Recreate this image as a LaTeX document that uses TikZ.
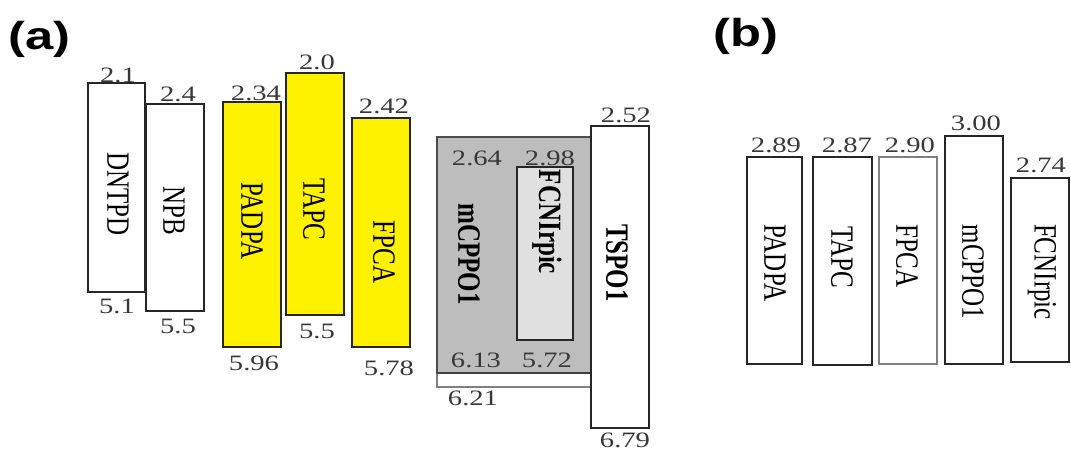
\documentclass[tikz,border=0pt]{standalone}
\usepackage{fontspec}
\usepackage{graphicx}
\setmainfont{Liberation Serif}
\newfontfamily\panelfont{Liberation Sans}

\tikzset{
  lvlbox/.style={draw=black!85, line width=1.1pt, fill=white},
  hostbox/.style={lvlbox, fill=yellow},
  val/.style={font=\fontsize{22}{24}\selectfont, text=black!78, inner sep=0pt, anchor=base},
  mol/.style={rotate=-90, inner sep=0pt, font=\fontsize{25}{28}\selectfont},
  panel/.style={font=\panelfont\bfseries\fontsize{39}{42}\selectfont, inner sep=0pt, anchor=base west},
}
\newcommand{\vtxt}[1]{\scalebox{1}[1.3]{#1}}
\newcommand{\htxt}[1]{\scalebox{1.3}[1]{#1}}

\begin{document}
\begin{tikzpicture}[x=1pt, y=-1pt]
    \useasboundingbox (0,0) rectangle (1071,452);

    % Panel labels
    \node[panel] (labA) at (8,50) {\htxt{(a)}};
    \node[panel] (labB) at (713,47) {\htxt{(b)}};

    % (a) hole transport layers
    \draw[lvlbox] (88,83) rectangle (145,292);
    \draw[lvlbox] (146,104) rectangle (204,311);
    \node[mol] (dntpd) at (118,194) {\vtxt{DNTPD}};
    \node[mol] (npb) at (174,211) {\vtxt{NPB}};
    \node[val] (dntpdL) at (118,82) {\htxt{2.1}};
    \node[val] (dntpdH) at (117,313) {\htxt{5.1}};
    \node[val] (npbL) at (178,102) {\htxt{2.4}};
    \node[val] (npbH) at (178,333) {\htxt{5.5}};

    % (a) yellow hosts
    \draw[hostbox] (223,102) rectangle (281,347);
    \draw[hostbox] (286,73) rectangle (344,315);
    \draw[hostbox] (352,118) rectangle (410,347);
    \node[mol] (padpa) at (252,221) {\vtxt{PADPA}};
    \node[mol] (tapc) at (314,209) {\vtxt{TAPC}};
    \node[mol] (fpca) at (384,252) {\vtxt{FPCA}};
    \node[val] (padpaL) at (256,100) {\htxt{2.34}};
    \node[val] (padpaH) at (254,370) {\htxt{5.96}};
    \node[val] (tapcL) at (317,70) {\htxt{2.0}};
    \node[val] (tapcH) at (317,338) {\htxt{5.5}};
    \node[val] (fpcaL) at (384,113) {\htxt{2.42}};
    \node[val] (fpcaH) at (389,375) {\htxt{5.78}};

    % (a) mCPPO1 host with FCNIrpic dopant
    \draw[draw=gray, line width=1.1pt, fill=white] (437,373) rectangle (592,387);
    \draw[draw=black!70, line width=1.1pt, fill=black!26] (437,137) rectangle (592,373);
    \draw[black!75, line width=2.2pt] (437,373) -- (592,373);
    \draw[lvlbox, fill=black!12] (517,167) rectangle (573,340);
    \node[mol, font=\bfseries\fontsize{25}{28}\selectfont] (mcppo) at (469,254) {\vtxt{mCPPO1}};
    \node[mol, font=\bfseries\fontsize{25}{28}\selectfont] (fcnir) at (547,222) {\vtxt{FCNIrpic}};
    \node[val] (mcppoL) at (477,165) {\htxt{2.64}};
    \node[val] (fcnirL) at (550,165) {\htxt{2.98}};
    \node[val] (mcppoH) at (476,367) {\htxt{6.13}};
    \node[val] (fcnirH) at (547,367) {\htxt{5.72}};
    \node[val] (stripH) at (473,405) {\htxt{6.21}};

    % (a) electron transport layer
    \draw[lvlbox] (591,126) rectangle (649,428);
    \node[mol, font=\bfseries\fontsize{25}{28}\selectfont] (tspo) at (617,263) {\vtxt{TSPO1}};
    \node[val] (tspoL) at (626,122) {\htxt{2.52}};
    \node[val] (tspoH) at (625,447) {\htxt{6.79}};

    % (b) triplet levels
    \draw[lvlbox] (747,157) rectangle (802,364);
    \draw[lvlbox] (813,157) rectangle (872,365);
    \draw[lvlbox, draw=gray, line width=1.8pt] (879,157) rectangle (937,364);
    \draw[lvlbox] (945,136) rectangle (1003,364);
    \draw[lvlbox] (1011,178) rectangle (1069,362);
    \node[mol] (padpaT) at (775,263) {\vtxt{PADPA}};
    \node[mol] (tapcT) at (842,257) {\vtxt{TAPC}};
    \node[mol] (fpcaT) at (907,256) {\vtxt{FPCA}};
    \node[mol] (mcppoT) at (973,272) {\vtxt{mCPPO1}};
    \node[mol] (fcnirT) at (1042,272) {\vtxt{FCNIrpic}};
    \node[val] (padpaE) at (776,152) {\htxt{2.89}};
    \node[val] (tapcE) at (847,152) {\htxt{2.87}};
    \node[val] (fpcaE) at (910,152) {\htxt{2.90}};
    \node[val] (mcppoE) at (976,130) {\htxt{3.00}};
    \node[val] (fcnirE) at (1041,172) {\htxt{2.74}};
\end{tikzpicture}
\end{document}
